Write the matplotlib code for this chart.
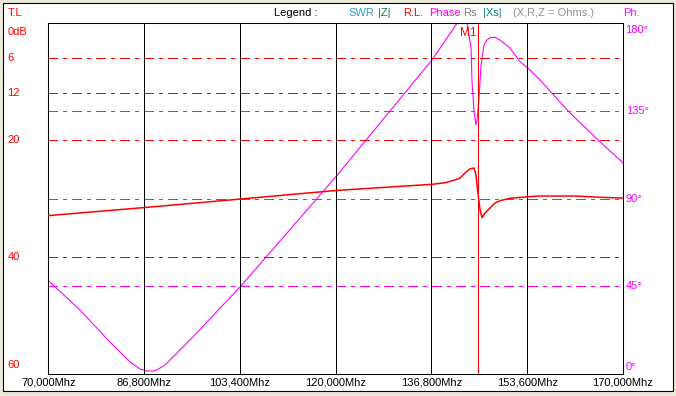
import matplotlib
matplotlib.use('Agg')
import matplotlib.pyplot as plt
from matplotlib.transforms import blended_transform_factory as btf
from matplotlib.patches import Rectangle

plt.rcParams['lines.scale_dashes'] = False
plt.rcParams['font.family'] = ['Liberation Sans', 'DejaVu Sans']

# ---------------- data ----------------
x_tick_labels = ['70,000Mhz', '86,800Mhz', '103,400Mhz', '120,000Mhz',
                 '136,800Mhz', '153,600Mhz', '170,000Mhz']
f_min, f_max = 70000, 170000

db_ticks = [6, 12, 20, 40]
db_labels = ['6', '12', '20', '40']
ph_ticks = [45, 90, 135]
ph_labels = ['45°', '90°', '135°']

# Return loss (dB, left axis, inverted)
rl_freq = [70000, 87000, 103530, 120060, 136770, 139030, 140770, 141640, 142510,
           143380, 144080, 144430, 144690, 145130, 145470, 145990, 146860, 147730,
           148600, 150340, 153470, 155560, 161820, 166000, 170000]
rl_db = [32.9, 31.5, 30.06, 28.6, 27.55, 27.27, 26.8, 26.47, 25.6,
         24.9, 24.75, 25.95, 28.5, 31.9, 33.26, 32.45, 31.6, 30.75,
         30.35, 29.94, 29.67, 29.55, 29.55, 29.77, 29.89]

# Phase (degrees, right axis)
ph_freq = [70000, 75520, 80390, 82480, 84220, 85960, 87180, 88570, 90310, 92050,
           94660, 103530, 120060, 136770, 141120, 142860, 143560, 143730, 144080,
           144430, 144600, 144950, 145300, 145820, 146340, 146860, 147730, 148600,
           150340, 152080, 153820, 155560, 160770, 166000, 170000]
ph_deg = [48.0, 32.8, 17.45, 11.3, 6.16, 2.57, 1.54, 1.54, 4.6, 9.75,
          17.45, 45.2, 101.3, 161.2, 180.0, 180.0, 167.3, 149.9, 134.5,
          127.8, 130.4, 141.7, 158.6, 168.9, 171.4, 172.6, 172.8, 171.4,
          167.3, 160.3, 156.0, 150.9, 134.0, 119.2, 108.4]

marker_freq = 144800
marker_label = 'M1'

# ---------------- figure ----------------
W, H = 676, 396
fig = plt.figure(figsize=(W / 100, H / 100), dpi=100, facecolor='#ECE9D8')

def fx(px):
    return px / W

def fy(py):
    return 1 - py / H

panel = Rectangle((fx(3), fy(391)), (673 - 3) / W, (391 - 3) / H,
                  transform=fig.transFigure, facecolor='white',
                  edgecolor='black', linewidth=0.8, zorder=-10)
fig.patches.append(panel)

L, R, T, B = 48.3, 623.0, 23.3, 374.0
ax = fig.add_axes([fx(L), fy(B), (R - L) / W, (B - T) / H])
ax.set_zorder(1)
ax.set_facecolor('none')
ax.set_xlim(f_min, f_max)
ax.set_ylim(60, 0)
for s in ax.spines.values():
    s.set_color('black')
    s.set_linewidth(0.75)
ax.set_xticks([])
ax.set_yticks([])

ax2 = ax.twinx()
ax2.set_zorder(0.5)
ax2.set_ylim(0, 180)
ax2.set_xlim(f_min, f_max)
ax2.set_yticks([])
ax2.set_facecolor('none')
for s in ax2.spines.values():
    s.set_visible(False)

LW = 0.7
dash = [6.5, 4.3, 2.2, 4.3]
# horizontal grid
for v in db_ticks:
    ln, = ax.plot([f_min, f_max], [v, v], color='#FF0000', lw=LW,
                  antialiased=False, zorder=2)
    ln.set_dashes(dash)
for v in ph_ticks:
    ln, = ax2.plot([f_min, f_max], [v, v], color='#FF00FF', lw=LW,
                   antialiased=False, zorder=2)
    ln.set_dashes(dash)

# vertical grid
n = len(x_tick_labels)
xpos = [f_min + i * (f_max - f_min) / (n - 1) for i in range(n)]
for xv in xpos[1:-1]:
    ax.axvline(xv, color='black', lw=LW, antialiased=False, zorder=2)

# curves
ax2.plot(ph_freq, ph_deg, color='#FF00FF', lw=0.8, zorder=4, clip_on=True)
ax.plot(rl_freq, rl_db, color='#FF0000', lw=1.1, zorder=5, clip_on=True)

# marker
ax.axvline(marker_freq, color='#FF0000', lw=LW, antialiased=False, zorder=6)
ax.text(marker_freq - 250, 0.6, marker_label, color='#FF0000', fontsize=8.5,
        ha='right', va='top', zorder=7)

# x labels
for xv, lab in zip(xpos, x_tick_labels):
    ax.text(xv, fy(382.7), lab, transform=btf(ax.transData, fig.transFigure),
            ha='center', va='center', fontsize=8, color='black', clip_on=False)

# left labels
tl = btf(fig.transFigure, ax.transData)
for v, lab in zip(db_ticks, db_labels):
    ax.text(fx(7.5), v, lab, transform=tl, ha='left', va='center',
            fontsize=8, color='#FF0000', clip_on=False)
ax.text(fx(7.5), 0.7, '0dB', transform=tl, ha='left', va='top',
        fontsize=8, color='#FF0000', clip_on=False)
ax.text(fx(7.5), 59.3, '60', transform=tl, ha='left', va='bottom',
        fontsize=8, color='#FF0000', clip_on=False)
fig.text(fx(7.5), fy(12.5), 'T.L', ha='left', va='center', fontsize=8,
         color='#FF0000')

# right labels
tr = btf(fig.transFigure, ax2.transData)
for v, lab in zip(ph_ticks, ph_labels):
    ax2.text(fx(626), v, lab, transform=tr, ha='left', va='center',
             fontsize=8, color='#FF00FF', clip_on=False)
ax2.text(fx(625.5), 179.2, '180°', transform=tr, ha='left', va='top',
         fontsize=8, color='#FF00FF', clip_on=False)
ax2.text(fx(625.5), 0.8, '0°', transform=tr, ha='left', va='bottom',
         fontsize=8, color='#FF00FF', clip_on=False)
fig.text(fx(623.5), fy(12.5), 'Ph.', ha='left', va='center', fontsize=8,
         color='#FF00FF')

# legend
legend_items = [('Legend :', 'black', 273.5), ('SWR', '#3399CC', 348.3),
                ('|Z|', '#008040', 378.3), ('R.L.', '#FF0000', 403.3),
                ('Phase', '#FF00FF', 428.7), ('Rs', '#808080', 463.3),
                ('|Xs|', '#008080', 483.3), ('(X,R,Z = Ohms.)', '#909090', 513.3)]
for lab, col, px in legend_items:
    fig.text(fx(px), fy(12.5), lab, ha='left', va='center', fontsize=8, color=col)

fig.savefig('out.png', dpi=100, facecolor=fig.get_facecolor())
